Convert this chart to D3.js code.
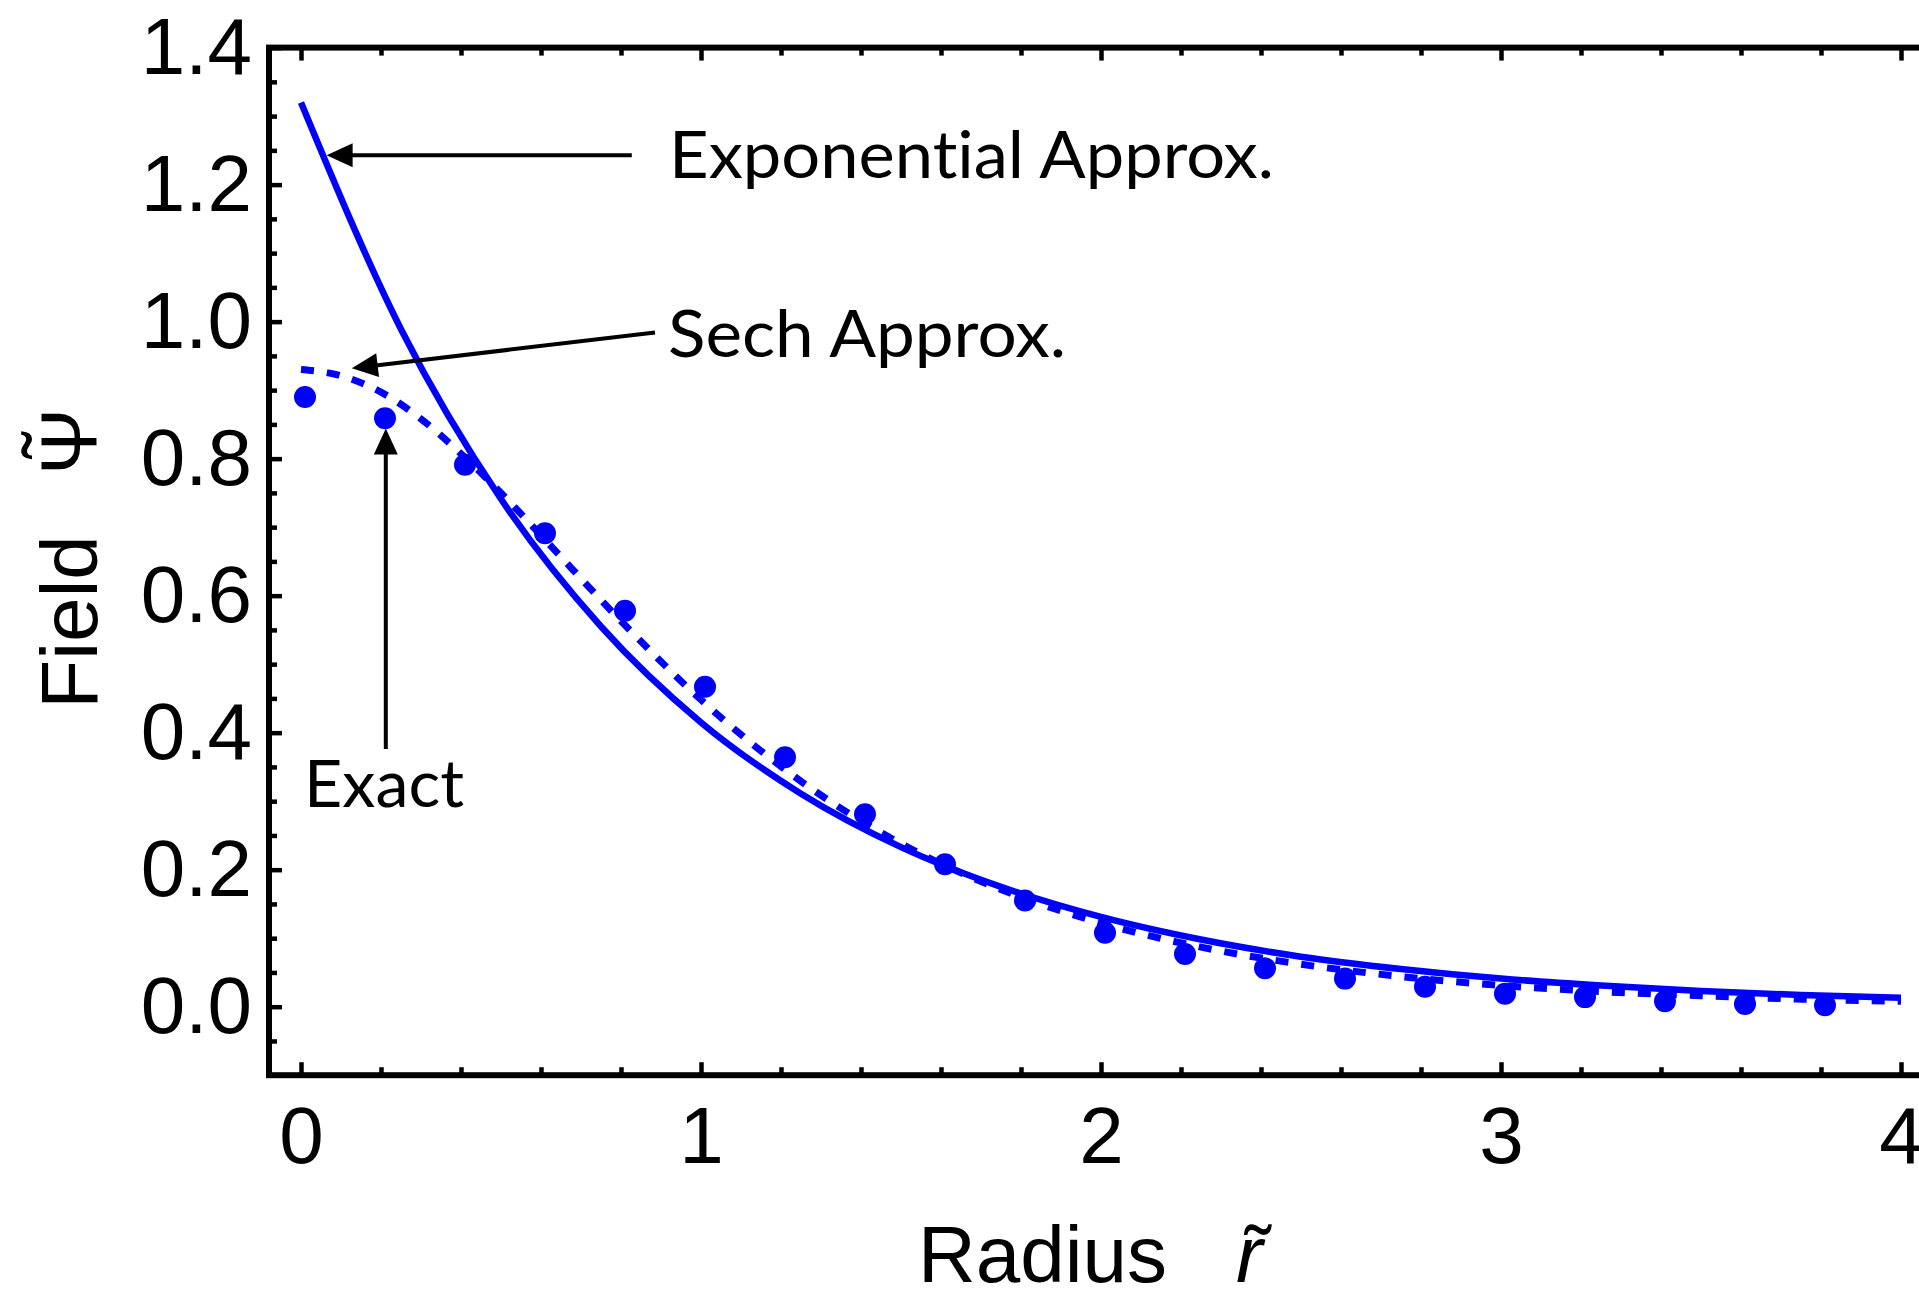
<!DOCTYPE html>
<html>
<head>
<meta charset="utf-8">
<script src="https://cdn.jsdelivr.net/npm/d3@7"></script>
<style>
  body { margin: 0; background: #fff; }
  svg { display: block; background: #fff; }
  .lbl { font-family: "Liberation Sans", Arial, sans-serif; font-size: 80px; fill: #000; }
  .note { font-family: Lato, "Open Sans", sans-serif; font-size: 65px; fill: #000; font-variant-ligatures: none; }
</style>
</head>
<body>
<div id="vis"></div>
<script>
// exact solution, dots
var radiusExact = [0.01, 0.21, 0.41, 0.61, 0.81, 1.01, 1.21, 1.41, 1.61, 1.81,
                   2.01, 2.21, 2.41, 2.61, 2.81, 3.01, 3.21, 3.41, 3.61, 3.81];
var fieldExact  = [0.890, 0.859, 0.791, 0.691, 0.578, 0.467, 0.364, 0.281, 0.208, 0.155,
                   0.108, 0.077, 0.056, 0.041, 0.029, 0.019, 0.014, 0.008, 0.004, 0.002];
// exponential approx, solid
var radiusExpo = [0, 0.25, 0.5, 0.75, 1, 1.25, 1.5, 1.75, 2, 2.25, 2.5, 2.75, 3, 3.25, 3.5, 3.75, 4];
var fieldExpo  = [1.320, 0.989, 0.741, 0.555, 0.415, 0.311, 0.233, 0.175, 0.131, 0.098,
                  0.073, 0.055, 0.041, 0.031, 0.023, 0.017, 0.013];
// sech approx, dashed
var radiusSech = [0, 0.1, 0.2, 0.3, 0.4, 0.5, 0.6, 0.8, 1, 1.25, 1.5, 1.75, 2, 2.25, 2.5, 2.75, 3, 3.25, 3.5, 3.75, 4];
var fieldSech  = [0.930, 0.921, 0.897, 0.858, 0.807, 0.750, 0.688, 0.563, 0.448, 0.329, 0.238,
                  0.171, 0.122, 0.087, 0.062, 0.044, 0.031, 0.022, 0.016, 0.011, 0.008];

var xTicks = [0, 1, 2, 3, 4];
var xTickLabels = ["0", "1", "2", "3", "4"];
var yTicks = [0, 0.2, 0.4, 0.6, 0.8, 1.0, 1.2, 1.4];
var yTickLabels = ["0.0", "0.2", "0.4", "0.6", "0.8", "1.0", "1.2", "1.4"];

var width = 1919, height = 1289;

var svg = d3.select("#vis").append("svg")
  .attr("width", width)
  .attr("height", height);

var x = d3.scaleLinear().domain([-0.08, 4.08]).range([269, 1933]);
var y = d3.scaleLinear().domain([-0.1, 1.4]).range([1075.2, 47.6]);

var xMinor = d3.range(0, 4.01, 0.2).filter(function (d) { return Math.abs(d - Math.round(d)) > 0.01; });
var yMinor = d3.range(-0.1, 1.41, 0.05).filter(function (d) { return Math.abs(d * 5 - Math.round(d * 5)) > 0.01; });

var MAJOR = 13, MINOR = 8;

function styleAxis(g) {
  g.select(".domain").remove();
  g.selectAll("line").attr("stroke", "#000").attr("stroke-width", 4.5);
  g.attr("font-family", null).attr("font-size", null);
  g.selectAll("text").attr("class", "lbl");
}

////////// frame ticks //////////
// bottom
svg.append("g").attr("transform", "translate(0," + y(-0.1) + ")")
  .call(d3.axisBottom(x).tickValues(xTicks).tickSize(-MAJOR).tickPadding(31)
    .tickFormat(function (d, i) { return xTickLabels[i]; }))
  .call(styleAxis);
svg.append("g").attr("transform", "translate(0," + y(-0.1) + ")")
  .call(d3.axisBottom(x).tickValues(xMinor).tickSize(-MINOR).tickFormat(""))
  .call(styleAxis);
// top
svg.append("g").attr("transform", "translate(0," + y(1.4) + ")")
  .call(d3.axisTop(x).tickValues(xTicks).tickSize(-MAJOR).tickFormat(""))
  .call(styleAxis);
svg.append("g").attr("transform", "translate(0," + y(1.4) + ")")
  .call(d3.axisTop(x).tickValues(xMinor).tickSize(-MINOR).tickFormat(""))
  .call(styleAxis);
// left
svg.append("g").attr("transform", "translate(" + x(-0.08) + ",0)")
  .call(d3.axisLeft(y).tickValues(yTicks).tickSize(-MAJOR).tickPadding(17)
    .tickFormat(function (d, i) { return yTickLabels[i]; }))
  .call(styleAxis);
svg.append("g").attr("transform", "translate(" + x(-0.08) + ",0)")
  .call(d3.axisLeft(y).tickValues(yMinor).tickSize(-MINOR).tickFormat(""))
  .call(styleAxis);
// right
svg.append("g").attr("transform", "translate(" + x(4.08) + ",0)")
  .call(d3.axisRight(y).tickValues(yTicks).tickSize(-MAJOR).tickFormat(""))
  .call(styleAxis);
svg.append("g").attr("transform", "translate(" + x(4.08) + ",0)")
  .call(d3.axisRight(y).tickValues(yMinor).tickSize(-MINOR).tickFormat(""))
  .call(styleAxis);

svg.append("rect")
  .attr("x", x(-0.08)).attr("y", y(1.4))
  .attr("width", x(4.08) - x(-0.08)).attr("height", y(-0.1) - y(1.4))
  .attr("fill", "none").attr("stroke", "#000").attr("stroke-width", 6);

////////// curves //////////
var line = d3.line()
  .x(function (d) { return x(d[0]); })
  .y(function (d) { return y(d[1]); })
  .curve(d3.curveMonotoneX);

svg.append("path")
  .datum(d3.zip(radiusSech, fieldSech))
  .attr("d", line)
  .attr("fill", "none").attr("stroke", "#0000ff").attr("stroke-width", 7)
  .attr("stroke-dasharray", "13,13");

svg.append("path")
  .datum(d3.zip(radiusExpo, fieldExpo))
  .attr("d", line)
  .attr("fill", "none").attr("stroke", "#0000ff").attr("stroke-width", 6.5);

svg.selectAll("circle.exact")
  .data(d3.zip(radiusExact, fieldExact))
  .enter().append("circle")
  .attr("class", "exact")
  .attr("cx", function (d) { return x(d[0]); })
  .attr("cy", function (d) { return y(d[1]); })
  .attr("r", 11)
  .attr("fill", "#0000ff");

////////// annotations //////////
var notes = [
  { text: "Exponential Approx.", tx: 0.92, ty: 1.209, len: 605, from: [0.827, 1.2428], to: [0.064, 1.2428] },
  { text: "Sech Approx.", tx: 0.9175, ty: 0.949, len: 398, from: [0.885, 0.984], to: [0.127, 0.932] },
  { text: "Exact", tx: 0.0075, ty: 0.292, len: 160, from: [0.212, 0.376], to: [0.212, 0.844] }
];

notes.forEach(function (n) {
  var x0 = x(n.from[0]), y0 = y(n.from[1]), x1 = x(n.to[0]), y1 = y(n.to[1]);
  var dx = x1 - x0, dy = y1 - y0, L = Math.sqrt(dx * dx + dy * dy);
  var ux = dx / L, uy = dy / L;
  var headL = 26, headW = 12;
  var bx = x1 - ux * headL, by = y1 - uy * headL;
  svg.append("line")
    .attr("x1", x0).attr("y1", y0).attr("x2", bx + ux * 2).attr("y2", by + uy * 2)
    .attr("stroke", "#000").attr("stroke-width", 4);
  svg.append("polygon")
    .attr("points", [[x1, y1], [bx - uy * headW, by + ux * headW], [bx + uy * headW, by - ux * headW]]
      .map(function (p) { return p.join(","); }).join(" "))
    .attr("fill", "#000");
  svg.append("text")
    .attr("class", "note")
    .attr("x", x(n.tx)).attr("y", y(n.ty))
    .attr("textLength", n.len)
    .attr("lengthAdjust", "spacingAndGlyphs")
    .text(n.text);
});

////////// axis titles //////////
svg.append("text").attr("class", "lbl")
  .attr("x", 918).attr("y", 1282)
  .text("Radius");
svg.append("text").attr("class", "lbl")
  .attr("x", 1236).attr("y", 1282)
  .style("font-style", "italic")
  .text("r");
svg.append("text").attr("class", "lbl")
  .attr("x", 1258).attr("y", 1282)
  .attr("text-anchor", "middle")
  .text("\u02DC");

svg.append("text").attr("class", "lbl")
  .attr("transform", "translate(97,622) rotate(-90)")
  .attr("text-anchor", "middle")
  .text("Field");
svg.append("text").attr("class", "lbl")
  .attr("transform", "translate(97,441.7) rotate(-90)")
  .attr("text-anchor", "middle")
  .text("\u03A8");
svg.append("text").attr("class", "lbl")
  .attr("transform", "translate(79,445) rotate(-90)")
  .attr("text-anchor", "middle")
  .text("\u02DC");
</script>
</body>
</html>
